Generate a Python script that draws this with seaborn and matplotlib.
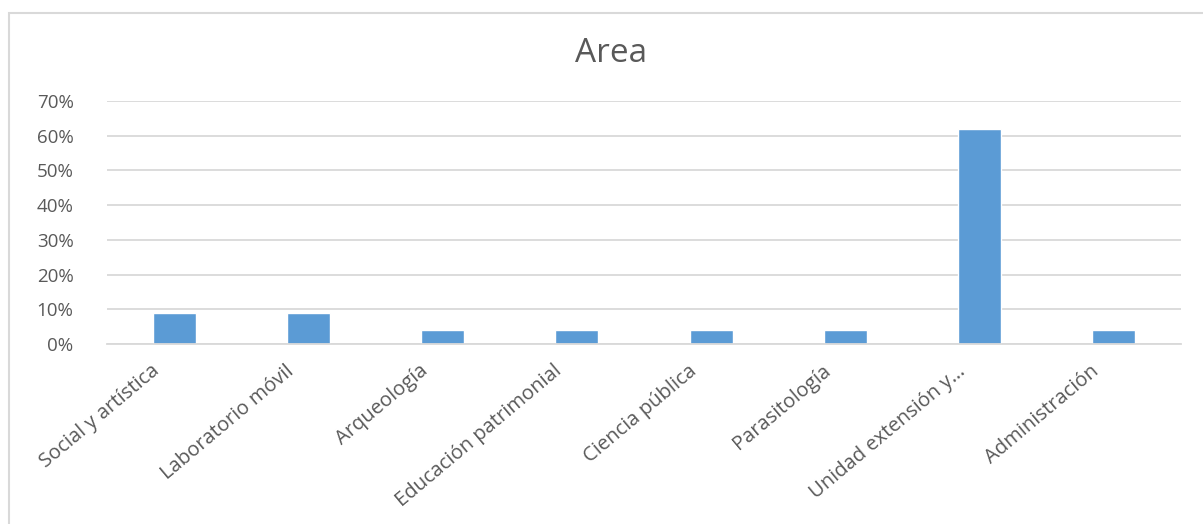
import matplotlib
matplotlib.use("Agg")
import matplotlib.pyplot as plt
import matplotlib.transforms as mtransforms
from matplotlib.ticker import PercentFormatter
import pandas as pd
import seaborn as sns

# ── DATA ──────────────────────────────────────────────
areas = ["Social y artística", "Laboratorio móvil", "Arqueología",
         "Educación patrimonial", "Ciencia pública", "Parasitología",
         "Unidad extensión y…", "Administración"]
share = [9, 9, 4, 4, 4, 4, 62, 4]
y_ticks = [0, 10, 20, 30, 40, 50, 60, 70]

df = pd.DataFrame({"Area": areas, "Share": share})

sns.set_theme(style="white")
plt.rcParams["font.family"] = ["Open Sans", "DejaVu Sans"]

grey_txt = "#595959"
grid_col = "#d9d9d9"
bar_col = "#5b9bd5"

fig = plt.figure(figsize=(12.03, 5.24), dpi=100)
ax = fig.add_axes([0.0889, 0.3435, 0.8928, 0.4638])

sns.barplot(data=df, x="Area", y="Share", color=bar_col, width=0.32,
            saturation=1, ax=ax)

ax.set_ylim(0, 70)
ax.set_yticks(y_ticks)
ax.yaxis.set_major_formatter(PercentFormatter(decimals=0))
ax.set_xlim(-0.5, len(areas) - 0.5)
ax.grid(axis="y", color=grid_col, lw=1.3)
ax.set_axisbelow(True)
for s in ["top", "right", "left"]:
    ax.spines[s].set_visible(False)
ax.spines["bottom"].set_color(grid_col)
ax.spines["bottom"].set_linewidth(1.3)
ax.set_xlabel("")
ax.set_ylabel("")
ax.tick_params(axis="y", length=0, pad=24, labelsize=13.5, labelcolor=grey_txt)
ax.tick_params(axis="x", length=0, pad=2, labelsize=14.5, labelcolor=grey_txt)

offset = mtransforms.ScaledTranslation(-0.17, -0.22, fig.dpi_scale_trans)
for lbl in ax.get_xticklabels():
    lbl.set_rotation(40)
    lbl.set_ha("right")
    lbl.set_va("center")
    lbl.set_rotation_mode("anchor")
    lbl.set_transform(lbl.get_transform() + offset)

fig.text(0.508, 0.898, "Area", ha="center", va="center",
         fontsize=24, color=grey_txt)

# chart frame (left and top edges visible)
frame = plt.Rectangle((9 / 1203, -0.05), 1.2, 1.0 - 13 / 524 + 0.05,
                      transform=fig.transFigure, fill=False,
                      edgecolor=grid_col, lw=1.5)
fig.add_artist(frame)

fig.savefig("out.png", dpi=100)
